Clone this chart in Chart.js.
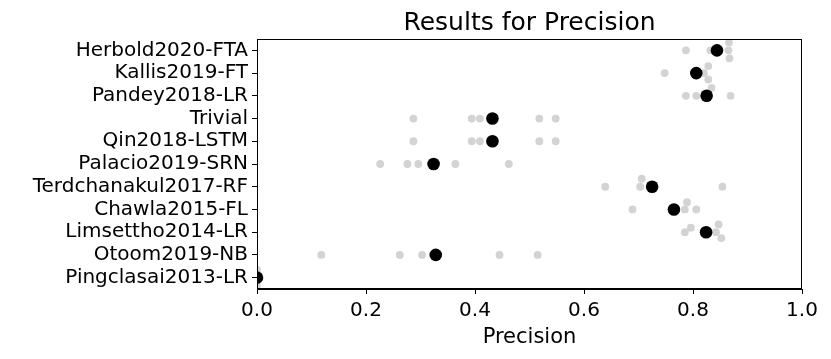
<!DOCTYPE html>
<html>
<head>
<meta charset="utf-8">
<script src="https://cdn.jsdelivr.net/npm/chart.js@4"></script>
<style>
  html, body { margin: 0; padding: 0; background: #fff; }
  #wrap { width: 831px; height: 359px; }
</style>
</head>
<body>
<div id="wrap"><canvas id="grafica"></canvas></div>
<script>
// Métodos (de arriba a abajo)
const metodos = ['Herbold2020-FTA', 'Kallis2019-FT', 'Pandey2018-LR', 'Trivial', 'Qin2018-LSTM',
  'Palacio2019-SRN', 'Terdchanakul2017-RF', 'Chawla2015-FL', 'Limsettho2014-LR', 'Otoom2019-NB',
  'Pingclasai2013-LR'];

// Precisión media por método (puntos negros)
const medias = [0.844, 0.806, 0.825, 0.432, 0.432, 0.324, 0.725, 0.765, 0.824, 0.328, 0.0];

// Precisión de cada ejecución (puntos grises) y su desplazamiento vertical (jitter)
const ejecuciones = [
  [0.787, 0.832, 0.865, 0.866, 0.867],
  [0.748, 0.806, 0.820, 0.828, 0.828],
  [0.787, 0.806, 0.834, 0.869],
  [0.287, 0.394, 0.409, 0.518, 0.548],
  [0.287, 0.394, 0.409, 0.518, 0.548],
  [0.226, 0.276, 0.296, 0.364, 0.462],
  [0.639, 0.703, 0.706, 0.854],
  [0.689, 0.785, 0.789, 0.806],
  [0.785, 0.796, 0.842, 0.847, 0.852],
  [0.118, 0.262, 0.303, 0.445, 0.515],
  [0.0, 0.0, 0.0]
];
const jitter = [
  [0, 0, 0, -0.35, 0.35],
  [0, 0, 0, -0.31, 0.28],
  [0, 0, -0.35, 0],
  [0, 0, 0, 0, 0],
  [0, 0, 0, 0, 0],
  [0, 0, 0, 0, 0],
  [0, 0, -0.35, 0],
  [0, 0, -0.32, 0],
  [0, -0.2, 0, -0.34, 0.26],
  [0, 0, 0, 0, 0],
  [-0.35, 0, 0.35]
];

const xTicks = [0, 0.2, 0.4, 0.6, 0.8, 1.0];

const puntosGrises = [];
ejecuciones.forEach((vals, i) => {
  vals.forEach((v, j) => puntosGrises.push({ x: v, y: i + jitter[i][j] }));
});
const puntosNegros = medias.map((v, i) => ({ x: v, y: i }));

const fuente = 'DejaVu Sans, Arial, sans-serif';

// Marco completo y título centrado sobre el área de la gráfica
const marco = {
  id: 'marco',
  afterDraw(chart) {
    const a = chart.chartArea;
    const c = chart.ctx;
    c.save();
    c.strokeStyle = '#000';
    c.lineWidth = 1;
    c.strokeRect(a.left + 0.5, a.top + 0.5, a.right - a.left - 1, a.bottom - a.top - 1);
    c.fillStyle = '#000';
    c.font = '25px ' + fuente;
    c.textAlign = 'center';
    c.textBaseline = 'alphabetic';
    c.fillText('Results for Precision', (a.left + a.right) / 2, 30);
    c.restore();
  }
};

new Chart(document.getElementById('grafica'), {
  type: 'scatter',
  data: {
    datasets: [{
      data: puntosNegros,
      backgroundColor: '#000',
      borderColor: '#000',
      pointRadius: 6.3,
      pointHoverRadius: 6.3,
      borderWidth: 0,
      order: 0
    }, {
      data: puntosGrises,
      backgroundColor: '#d3d3d3',
      borderColor: '#d3d3d3',
      pointRadius: 3.9,
      pointHoverRadius: 3.9,
      borderWidth: 0,
      order: 1
    }]
  },
  options: {
    responsive: true,
    maintainAspectRatio: false,
    animation: false,
    layout: { padding: { left: 0, right: 29, top: 39, bottom: 0 } },
    plugins: {
      legend: { display: false },
      tooltip: { enabled: false },
      title: { display: false }
    },
    scales: {
      x: {
        type: 'linear',
        min: 0,
        max: 1,
        afterBuildTicks: s => { s.ticks = xTicks.map(v => ({ value: v })); },
        afterFit: s => { s.height = 70; },
        ticks: {
          color: '#000',
          font: { family: fuente, size: 20 },
          padding: 5,
          callback: v => v.toFixed(1)
        },
        grid: { display: true, drawOnChartArea: false, color: '#000', tickLength: 5 },
        border: { display: true, color: '#000' },
        title: {
          display: true,
          text: 'Precision',
          color: '#000',
          font: { family: fuente, size: 21 },
          padding: { top: 0, bottom: 9 }
        }
      },
      y: {
        type: 'linear',
        reverse: true,
        min: -0.5,
        max: 10.5,
        afterBuildTicks: s => { s.ticks = metodos.map((_, i) => ({ value: i })); },
        afterFit: s => { s.width = 257; },
        ticks: {
          color: '#000',
          font: { family: fuente, size: 20 },
          padding: 4,
          autoSkip: false,
          callback: v => metodos[v]
        },
        grid: { display: true, drawOnChartArea: false, color: '#000', tickLength: 5 },
        border: { display: true, color: '#000' }
      }
    }
  },
  plugins: [marco]
});
</script>
</body>
</html>
